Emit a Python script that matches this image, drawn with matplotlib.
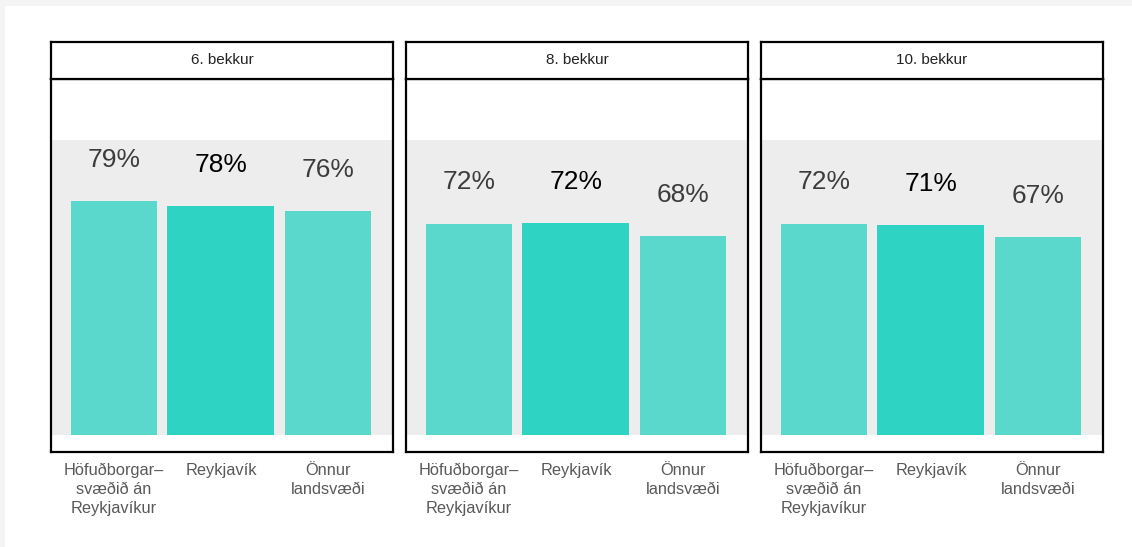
import matplotlib
matplotlib.use("Agg")
import matplotlib.pyplot as plt
from matplotlib.patches import Rectangle

plt.rcParams['font.family'] = ['Liberation Sans', 'DejaVu Sans']

panels = ["6. bekkur", "8. bekkur", "10. bekkur"]
categories = ["Höfuðborgar–\nsvæðið án\nReykjavíkur", "Reykjavík", "Önnur\nlandsvæði"]
values = {
    "6. bekkur": [79.3, 77.6, 75.9],
    "8. bekkur": [71.6, 71.8, 67.5],
    "10. bekkur": [71.6, 71.2, 67.1],
}

W, H = 1132, 547
fig = plt.figure(figsize=(W / 100, H / 100), dpi=100)
fig.patch.set_facecolor("#f4f4f4")
fig.patches.append(Rectangle((5 / W, 0), 1, 1 - 6 / H, transform=fig.transFigure,
                             facecolor="white", edgecolor="none", zorder=-10))

lefts = [51, 406, 761]
pw = 342
ax_top, ax_bot = 79, 452
strip_top = 42

side_col = "#5AD8CB"
mid_col = "#2ED3C3"

for p, left in zip(panels, lefts):
    ax = fig.add_axes([left / W, 1 - ax_bot / H, pw / W, (ax_bot - ax_top) / H])
    vals = values[p]
    xs = list(range(len(categories)))
    widths = [0.8, 1.0, 0.8]
    cols = [side_col, mid_col, side_col]
    ax.axhspan(0, 100, color="#EDEDED", zorder=0, lw=0)
    ax.bar(xs, vals, width=widths, color=cols, zorder=2)
    for x, v in zip(xs, vals):
        ax.text(x, v + 14, f"{v:.0f}%", ha="center", va="center", fontsize=19,
                color="black" if x == 1 else "#3C3C3C", zorder=3)
    ax.set_xlim(-0.59, 2.61)
    ax.set_ylim(-5.8, 120.7)
    ax.set_yticks([])
    ax.set_xticks(xs)
    ax.set_xticklabels(categories, fontsize=11.8, color="#595959", linespacing=1.3)
    ax.tick_params(axis="x", length=0, pad=8)
    for s in ax.spines.values():
        s.set_linewidth(1.6)
        s.set_color("black")
    sax = fig.add_axes([left / W, 1 - ax_top / H, pw / W, (ax_top - strip_top) / H])
    sax.set_xticks([])
    sax.set_yticks([])
    for s in sax.spines.values():
        s.set_linewidth(1.6)
        s.set_color("black")
    sax.text(0.5, 0.5, p, ha="center", va="center", fontsize=11, color="#222222",
             transform=sax.transAxes)

fig.savefig("out.png", dpi=100)
